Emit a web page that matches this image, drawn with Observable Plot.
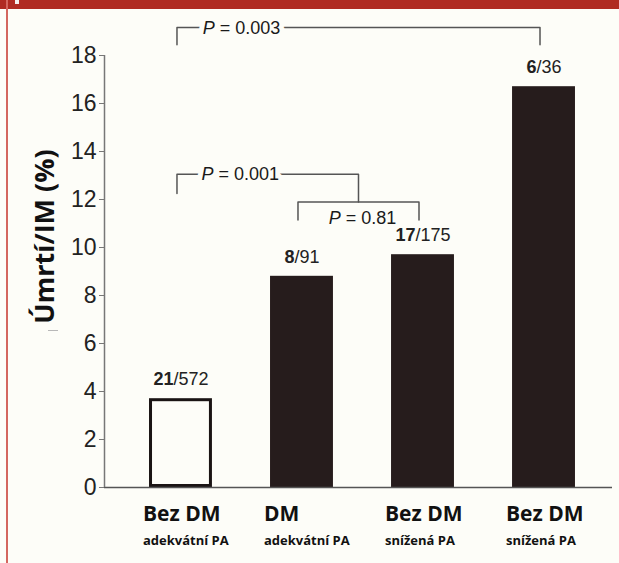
<!DOCTYPE html>
<html><head><meta charset="utf-8">
<script src="https://cdn.jsdelivr.net/npm/d3@7"></script>
<script src="https://cdn.jsdelivr.net/npm/@observablehq/plot@0.6"></script>
<style>
html,body{margin:0;padding:0;background:#fdfdf8;}
#wrap{position:relative;width:619px;height:563px;overflow:hidden;background:#fdfdf8;}
#chart svg{display:block;}
#band{position:absolute;left:0;top:0;width:619px;height:9px;background:#b02b22;}
#nick{position:absolute;left:15px;top:0;width:4px;height:4px;background:#f4f0ee;}
#edge{position:absolute;left:6px;top:0;width:2px;height:563px;background:#d4675f;}
#dash{position:absolute;left:48px;top:330px;width:10px;height:1px;background:#b8b8b8;}
</style></head><body>
<div id="wrap"><div id="chart"></div><div id="band"></div><div id="nick"></div><div id="edge"></div><div id="dash"></div></div>
<script>
const groupMain = ["Bez DM", "DM", "Bez DM", "Bez DM"];
const groupSub = ["adekvátní PA", "adekvátní PA", "snížená PA", "snížená PA"];
const deaths = [21, 8, 17, 6];
const patients = [572, 91, 175, 36];
const mortality = [3.7, 8.8, 9.7, 16.7];
const yTicks = [0, 2, 4, 6, 8, 10, 12, 14, 16, 18];
const yTitle = "Úmrtí/IM (%)";
// significance brackets (group indices and y levels in % units)
const comparisons = [
  {left: 0, right: 3,   level: 19.17, leftEnd: 18.45, rightEnd: 18.45, p: "0.003", labelX: 0.5,  labelY: 19.15},
  {left: 0, right: 1.5, level: 13.05, leftEnd: 12.25, rightEnd: 11.9,  p: "0.001", labelX: 0.49, labelY: 13.05},
  {left: 1, right: 2,   level: 11.9,  leftEnd: 11.15, rightEnd: 11.15, p: "0.81",  labelX: 1.5,  labelY: 11.2}
];

const bg = "#fdfdf8";
const xDomain = [-0.632, 3.566];
const half = 0.26;
const rows = groupMain.map((m, i) => ({i, main: m, sub: groupSub[i], value: mortality[i], label: `${deaths[i]}/${patients[i]}`}));
const bracketPts = comparisons.flatMap((c, k) => [
  {k, x: c.left, y: c.leftEnd}, {k, x: c.left, y: c.level},
  {k, x: c.right, y: c.level}, {k, x: c.right, y: c.rightEnd}
]);
const sans = "'Liberation Sans', Arial, Helvetica, sans-serif";
const open = "'Open Sans', 'Noto Sans', sans-serif";

const chart = Plot.plot({
  width: 619, height: 563,
  marginLeft: 104, marginRight: 7, marginTop: 55, marginBottom: 76,
  x: {domain: xDomain, axis: null},
  y: {domain: [0, 18], axis: null},
  style: {background: "transparent", fontFamily: sans, color: "#222"},
  marks: [
    Plot.rect(rows.filter(d => d.i > 0), {x1: d => d.i - half, x2: d => d.i + half, y1: 0, y2: "value", fill: "#261c1c"}),
    Plot.rect(rows.filter(d => d.i === 0), {x1: d => d.i - half, x2: d => d.i + half, y1: 0, y2: "value", fill: bg, stroke: "#1a1414", strokeWidth: 3, insetLeft: 1.5, insetRight: 1.5, insetTop: 1.5, insetBottom: 1.5}),
    Plot.ruleY([0], {stroke: "#555", strokeWidth: 1.5}),
    Plot.ruleX([xDomain[0]], {y1: 0, y2: 18, stroke: "#777", strokeWidth: 1.5}),
    Plot.axisY({ticks: yTicks, tickSize: 5, tickPadding: 3, fontSize: 23, label: null, stroke: "#777"}),
    Plot.line(bracketPts, {x: "x", y: "y", z: "k", stroke: "#555", strokeWidth: 1.5, dx: -4}),
    Plot.text(comparisons, {x: "labelX", y: "labelY", text: d => `P = ${d.p}`, fontSize: 18, fill: "#1a1a1a", stroke: bg, strokeWidth: 10}),
    Plot.text(rows, {x: "i", y: "value", text: "label", dy: -19, fontSize: 18, fill: "#222"}),
    Plot.text(rows, {x: "i", y: 0, text: "main", textAnchor: "start", dx: -38, dy: 27, fontSize: 21, fontWeight: "bold", fontFamily: open, fill: "#111"}),
    Plot.text(rows, {x: "i", y: 0, text: "sub", textAnchor: "start", dx: -38, dy: 53, fontSize: 13, fontWeight: "bold", fontFamily: open, fill: "#111"}),
    Plot.text([yTitle], {text: d => d, frameAnchor: "left", textAnchor: "middle", rotate: -90, dx: -59, dy: -35, fontSize: 27, fontWeight: "bold", fontFamily: open, fill: "#111"})
  ]
});

// bold numerators and italic P
const NS = "http://www.w3.org/2000/svg";
chart.querySelectorAll("text").forEach(t => {
  const s = t.textContent;
  let m;
  if ((m = s.match(/^(\d+)(\/\d+)$/))) {
    t.textContent = "";
    const b = document.createElementNS(NS, "tspan");
    b.setAttribute("font-weight", "bold");
    b.textContent = m[1];
    t.appendChild(b);
    t.appendChild(document.createTextNode(m[2]));
  } else if ((m = s.match(/^P( = .*)$/))) {
    t.textContent = "";
    const it = document.createElementNS(NS, "tspan");
    it.setAttribute("font-style", "italic");
    it.textContent = "P";
    t.appendChild(it);
    t.appendChild(document.createTextNode(m[1]));
  }
});
document.getElementById("chart").appendChild(chart);
</script>
</body></html>
